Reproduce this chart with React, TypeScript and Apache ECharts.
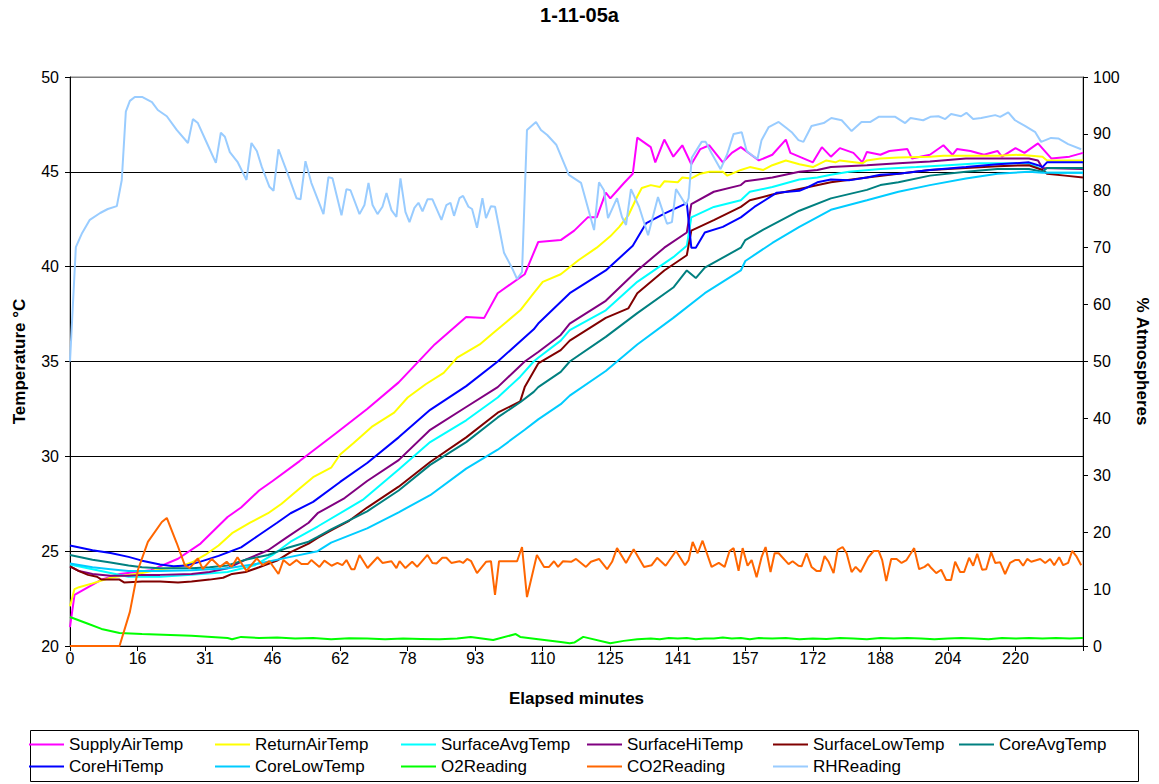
import React, { useEffect, useRef } from "react";
import * as echarts from "echarts";

// x values are sample indices along the elapsed-minutes category axis (0..225)
const xTickLabels = ["0", "16", "31", "46", "62", "78", "93", "110", "125", "141", "157", "172", "188", "204", "220"];

const supplyAirTemp: [number, number][] = [[0,21.0],[1,22.7],[7,23.5],[11,23.8],[18,24.0],[24,24.6],[29,25.4],[32,26.1],[35,26.8],[38,27.3],[42,28.2],[45,28.7],[51,29.75],[59,31.2],[66,32.5],[73,33.9],[81,35.9],[88,37.35],[92,37.3],[95,38.6],[101,39.6],[104,41.3],[109,41.4],[112,41.9],[115,42.6],[117,42.6],[119,43.9],[120,43.6],[123,44.4],[125,44.9],[126,46.8],[129,46.3],[130,45.5],[132,46.7],[134,45.8],[136,46.4],[138,45.4],[140,46.2],[142,46.4],[145,45.5],[147,46.0],[149,46.3],[153,45.6],[156,45.9],[159,46.7],[160,46.0],[165,45.5],[167,46.3],[169,45.8],[171,46.25],[174,46.0],[176,45.5],[177,46.05],[180,45.9],[182,46.1],[186,46.2],[187,45.7],[191,45.9],[194,46.4],[196,45.9],[197,46.2],[200,46.1],[203,45.9],[206,46.1],[207,45.8],[210,46.25],[212,46.0],[215,46.5],[218,45.7],[222,45.8],[225,46.0]];

const returnAirTemp: [number, number][] = [[0,22.1],[1,23.0],[2,23.1],[5,23.3],[9,23.6],[13,23.75],[16,23.85],[20,24.05],[24,24.15],[27,24.4],[30,24.8],[33,25.3],[36,25.95],[40,26.5],[44,27.0],[47,27.5],[51,28.3],[54,28.9],[58,29.4],[60,30.1],[63,30.7],[67,31.55],[72,32.3],[75,33.1],[79,33.8],[83,34.4],[86,35.2],[91,35.9],[94,36.5],[97,37.1],[100,37.7],[103,38.6],[105,39.2],[109,39.6],[113,40.35],[117,41.0],[120,41.6],[122,42.1],[124,42.7],[126,43.7],[127,44.15],[129,44.3],[131,44.2],[132,44.5],[135,44.45],[136,44.7],[138,44.65],[140,44.9],[142,45.0],[145,45.0],[146,44.8],[149,45.1],[151,45.25],[154,45.1],[156,45.35],[159,45.6],[162,45.4],[165,45.25],[168,45.6],[170,45.5],[171,45.6],[176,45.45],[177,45.6],[180,45.7],[184,45.75],[191,45.8],[194,45.85],[206,45.85],[211,45.9],[216,45.8],[217,45.6],[225,45.6]];

const surfaceAvgTemp: [number, number][] = [[0,24.3],[5,24.05],[9,23.85],[13,23.65],[20,23.65],[27,23.75],[35,23.9],[41,24.25],[45,24.8],[49,25.5],[55,26.3],[65,27.7],[73,29.3],[80,30.75],[88,31.9],[95,33.1],[100,34.2],[103,35.0],[104,35.2],[109,36.1],[111,36.65],[119,37.7],[126,39.2],[134,40.5],[137,41.1],[138,42.6],[143,43.15],[149,43.5],[151,43.95],[156,44.2],[162,44.6],[166,44.7],[169,44.85],[173,45.0],[180,45.15],[188,45.25],[195,45.35],[202,45.45],[213,45.45],[216,45.1],[217,44.95],[225,44.95]];

const surfaceHiTemp: [number, number][] = [[0,24.2],[2,23.95],[5,23.8],[9,23.7],[13,23.7],[16,23.75],[20,23.75],[27,23.8],[31,23.9],[35,24.1],[39,24.55],[44,25.05],[48,25.7],[53,26.5],[55,27.0],[61,27.8],[66,28.7],[73,29.8],[80,31.4],[88,32.6],[95,33.65],[101,35.0],[104,35.5],[109,36.4],[111,37.0],[119,38.2],[126,39.8],[132,41.0],[137,41.8],[138,43.3],[143,43.95],[149,44.3],[150,44.5],[156,44.7],[162,45.0],[166,45.1],[169,45.25],[177,45.35],[184,45.45],[191,45.55],[199,45.7],[213,45.7],[215,45.6],[216,45.2],[225,45.15]];

const surfaceLowTemp: [number, number][] = [[0,24.2],[2,23.95],[4,23.75],[6,23.65],[7,23.5],[11,23.5],[12,23.35],[16,23.4],[20,23.4],[24,23.35],[27,23.4],[31,23.5],[34,23.6],[36,23.8],[39,23.9],[42,24.15],[46,24.5],[49,24.95],[53,25.4],[55,25.7],[58,26.1],[62,26.6],[66,27.3],[73,28.4],[80,29.7],[88,31.0],[95,32.3],[100,32.9],[101,33.65],[104,34.9],[109,35.6],[111,36.1],[119,37.3],[124,37.8],[126,38.6],[132,39.8],[137,40.6],[138,41.9],[143,42.45],[149,43.15],[151,43.5],[156,43.8],[162,44.1],[169,44.45],[177,44.7],[184,44.9],[191,45.1],[199,45.2],[206,45.3],[213,45.35],[216,45.1],[217,44.9],[221,44.8],[225,44.7]];

const coreAvgTemp: [number, number][] = [[0,24.8],[5,24.55],[9,24.4],[13,24.25],[16,24.15],[20,24.1],[27,24.1],[31,24.15],[35,24.25],[39,24.55],[44,24.8],[48,25.15],[53,25.5],[55,25.75],[58,26.15],[66,27.1],[73,28.2],[80,29.55],[88,30.75],[95,32.05],[100,32.85],[103,33.4],[104,33.65],[109,34.45],[111,35.0],[119,36.3],[126,37.55],[134,38.9],[137,39.8],[139,39.4],[141,39.95],[149,41.0],[150,41.4],[154,41.95],[162,42.95],[169,43.6],[177,44.05],[180,44.3],[184,44.45],[191,44.8],[199,45.0],[206,45.15],[213,45.15],[216,45.0],[217,45.2],[225,45.2]];

const coreHiTemp: [number, number][] = [[0,25.3],[5,25.05],[9,24.9],[13,24.7],[16,24.5],[20,24.3],[23,24.2],[26,24.25],[29,24.45],[33,24.75],[38,25.2],[42,25.85],[46,26.5],[49,27.0],[54,27.6],[60,28.65],[66,29.65],[73,31.0],[80,32.45],[88,33.7],[95,35.0],[103,36.7],[104,37.0],[111,38.6],[119,39.8],[125,41.1],[128,42.3],[132,42.8],[137,43.35],[138,41.0],[139,41.0],[141,41.8],[145,42.1],[149,42.6],[152,43.15],[157,43.9],[162,44.0],[164,44.2],[166,44.45],[169,44.6],[173,44.55],[177,44.7],[180,44.85],[184,44.9],[191,45.1],[199,45.25],[206,45.4],[213,45.5],[215,45.35],[216,45.25],[217,45.5],[225,45.5]];

const coreLowTemp: [number, number][] = [[0,24.35],[5,24.15],[9,24.05],[13,23.95],[20,23.95],[27,24.0],[35,24.1],[42,24.35],[49,24.7],[55,25.0],[58,25.45],[66,26.2],[73,27.05],[80,27.95],[88,29.35],[95,30.35],[101,31.4],[104,31.95],[109,32.75],[111,33.2],[119,34.5],[126,35.9],[134,37.3],[141,38.6],[149,39.8],[150,40.3],[156,41.25],[162,42.1],[169,43.0],[177,43.5],[184,43.95],[191,44.3],[199,44.65],[206,44.9],[213,45.0],[216,44.95],[225,44.95]];

const o2Reading: [number, number][] = [[0,5.1],[4,3.9],[7,3.0],[11,2.3],[16,2.1],[27,1.8],[35,1.4],[36,1.2],[38,1.6],[42,1.4],[46,1.5],[50,1.3],[54,1.4],[58,1.2],[62,1.35],[66,1.3],[70,1.2],[74,1.3],[78,1.25],[82,1.2],[86,1.3],[89,1.6],[94,1.05],[99,2.1],[100,1.6],[104,1.2],[109,0.7],[111,0.5],[112,0.6],[114,1.6],[120,0.5],[123,0.9],[126,1.2],[129,1.3],[131,1.2],[133,1.4],[135,1.3],[137,1.4],[139,1.2],[141,1.3],[143,1.3],[145,1.5],[147,1.3],[149,1.4],[151,1.2],[153,1.4],[156,1.3],[159,1.4],[162,1.2],[165,1.3],[168,1.25],[171,1.4],[174,1.3],[177,1.2],[180,1.4],[183,1.3],[186,1.4],[189,1.3],[192,1.2],[195,1.3],[198,1.4],[201,1.3],[204,1.2],[207,1.4],[210,1.3],[213,1.4],[216,1.3],[219,1.4],[222,1.3],[225,1.4]];

const co2Reading: [number, number][] = [[0,0],[11,0],[13.3,6.0],[15.1,13.4],[17.3,18.3],[20.4,21.8],[21.5,22.5],[23.7,18.1],[25.5,14.2],[26.6,13.7],[28.4,15.4],[29.5,13.5],[31.5,15.3],[33.3,13.9],[34.8,14.8],[35.9,13.9],[37.2,15.6],[39.2,13.2],[41.5,15.4],[42.8,14.2],[44.3,14.9],[46.3,12.65],[47.4,15.1],[48.8,14.2],[50.3,15.1],[51.4,14.4],[52.8,14.4],[53.6,15.1],[55.4,13.9],[56.5,15.0],[58.1,14.1],[59.4,14.6],[60.5,14.2],[61.4,15.1],[62.5,13.5],[63.2,13.5],[64.3,16.0],[66.1,13.7],[68.3,15.6],[69.4,14.6],[71.4,14.9],[72.5,13.7],[73.2,14.9],[74.5,13.7],[76,14.8],[77.1,13.9],[79.4,16.0],[80.5,14.6],[81.4,14.5],[82.7,15.5],[83.6,15.5],[84.7,14.6],[86.5,14.9],[87.3,14.6],[88.2,15.3],[89.1,14.9],[90.4,12.8],[92.4,14.8],[93.5,14.9],[94.4,9.0],[95.3,14.9],[99.3,14.9],[100.4,17.4],[101.5,8.6],[103.7,16.0],[105.3,13.9],[106.4,13.9],[107.5,14.9],[108.4,13.9],[109.5,14.9],[111.3,14.8],[112.4,15.3],[114.6,13.9],[115.7,14.8],[117.5,15.3],[119.3,13.5],[120.4,14.8],[121.5,17.2],[123.5,14.6],[125.2,17.0],[127.5,13.9],[129.2,14.2],[130.4,15.5],[132.3,14.1],[134.6,16.7],[136.6,14.2],[137.4,15.1],[138.3,18.3],[139.4,16.3],[140.5,18.5],[142.5,13.9],[144.1,14.6],[145.4,13.9],[146.5,16.7],[147.4,17.2],[148.5,13.2],[149.4,17.2],[150.5,14.1],[151.4,15.1],[152.5,12.1],[153.6,15.6],[154.5,17.4],[155.6,13.0],[156.5,16.3],[157.4,16.3],[159.6,14.4],[160.5,14.9],[161.8,14.1],[162.5,14.0],[163.6,16.3],[164.7,13.9],[165.8,13.2],[166.7,13.2],[167.6,15.8],[168.5,14.8],[169.6,12.8],[170.5,16.9],[171.6,17.4],[172.5,16.3],[173.6,13.0],[174.5,13.9],[175.6,13.0],[177.3,15.6],[178.5,16.7],[179.6,16.7],[180.4,15.1],[181.3,11.4],[182.4,15.3],[183.6,15.3],[184.7,14.6],[185.8,15.1],[186.7,16.2],[187.5,17.2],[188.6,13.5],[189.8,13.9],[190.6,14.4],[191.3,13.7],[192.4,12.8],[193.5,13.4],[194.6,11.6],[195.7,11.6],[196.6,14.8],[197.7,13.0],[198.6,13.0],[199.7,15.5],[200.6,14.1],[201.5,16.2],[202.6,13.4],[203.5,13.5],[204.6,16.5],[205.5,14.6],[206.6,14.7],[207.7,12.65],[208.8,14.6],[209.9,15.1],[210.8,15.1],[211.7,14.1],[212.6,15.3],[213.5,14.8],[215.5,15.3],[216.6,14.6],[217.7,15.3],[218.6,14.2],[219.7,15.6],[220.6,14.2],[221.7,14.6],[222.6,16.7],[223.5,15.8],[224.6,14.2]];

const rhReading: [number, number][] = [[0,50],[1.3,70.1],[2.7,72.6],[4.4,74.9],[6.7,76.1],[8.4,76.8],[10.4,77.3],[11.5,81.9],[12.4,93.9],[13.3,95.8],[14.4,96.5],[16,96.5],[18.2,95.6],[19.5,94.2],[21.5,93.1],[23.7,90.7],[26.2,88.4],[27.3,92.6],[28.4,91.9],[30.4,88.4],[32.4,84.9],[33.5,90.2],[34.4,89.5],[35.5,86.8],[37.2,85.1],[39.2,81.9],[40.3,88.4],[41.5,87.0],[42.6,84.2],[44.3,80.7],[45.2,80.0],[46.3,87.3],[48.3,83.1],[50.3,78.7],[51.2,78.5],[52.3,85.2],[53.6,81.4],[56.3,75.9],[57.4,82.4],[58.3,82.2],[60.3,75.7],[61.4,80.3],[62.3,80.1],[64.3,75.9],[65.4,77.5],[66.3,81.4],[67.2,77.5],[68.3,75.9],[69.4,77.2],[70.3,79.6],[71.4,76.6],[72.5,75.4],[73.4,82.2],[74.5,76.3],[75.4,74.5],[76.5,77.0],[77.4,77.9],[78.3,76.4],[79.4,78.5],[80.5,78.5],[82.5,74.9],[83.6,77.5],[84.5,77.9],[85.3,75.6],[86.5,78.7],[87.3,79.1],[88.5,77.2],[89.3,76.8],[90.4,73.5],[91.6,78.7],[92.4,75.2],[93.5,77.3],[94.4,77.2],[95.3,73.6],[96.4,69.1],[98.2,66.4],[99.3,64.5],[100.4,65.7],[101.5,90.7],[103.5,92.1],[104.6,90.7],[106,89.8],[108,88.1],[110.8,82.8],[113.5,81.4],[116.4,73.1],[117.5,81.5],[118.6,80.1],[119.5,75.2],[121.5,78.7],[122.6,75.4],[123.5,74.0],[124.6,80.3],[126.4,77.2],[128.4,72.2],[130.6,78.9],[132.6,74.2],[133.7,74.5],[134.6,80.3],[136.8,77.5],[137.4,78.7],[138.1,85.8],[140.3,88.6],[141.2,88.6],[142.5,86.6],[144.5,83.8],[145.9,86.3],[147.4,90.0],[149.2,90.3],[150.3,87.0],[151.4,86.3],[152.7,85.6],[153.6,88.9],[155.2,91.2],[157.4,92.1],[159.2,91.0],[160.3,90.3],[161.8,88.9],[162.9,88.6],[164.7,91.4],[167.4,91.9],[169.1,92.8],[171.4,92.4],[173.6,90.5],[175.8,92.1],[177.8,92.1],[179.6,93.0],[183.3,93.0],[185.5,91.9],[186.7,92.8],[189.5,92.4],[191.1,93.0],[192.9,93.1],[194.4,92.6],[195.7,93.5],[197.9,93.1],[199.1,93.7],[200.6,92.6],[202.4,92.8],[205.5,93.3],[206.6,93.0],[208.4,93.8],[209.9,92.4],[212.1,91.4],[214.4,90.3],[215.7,88.6],[217.9,89.3],[219.5,89.2],[221.7,88.2],[224.6,87.3]];

const seriesNames = ["SupplyAirTemp", "ReturnAirTemp", "SurfaceAvgTemp", "SurfaceHiTemp", "SurfaceLowTemp", "CoreAvgTemp", "CoreHiTemp", "CoreLowTemp", "O2Reading", "CO2Reading", "RHReading"];
const seriesColors = ["#FF00FF", "#FFFF00", "#00FFFF", "#800080", "#800000", "#008080", "#0000FF", "#00CCFF", "#00FF00", "#FF6600", "#99CCFF"];
const seriesData = [supplyAirTemp, returnAirTemp, surfaceAvgTemp, surfaceHiTemp, surfaceLowTemp, coreAvgTemp, coreHiTemp, coreLowTemp, o2Reading, co2Reading, rhReading];
const seriesAxis = [0, 0, 0, 0, 0, 0, 0, 0, 1, 1, 1];

const FONT = "'Liberation Sans', Arial, sans-serif";

export default function App() {
  const ref = useRef<HTMLDivElement>(null);
  useEffect(() => {
    const chart = echarts.init(ref.current as HTMLDivElement, null, { renderer: "svg" });
    const colX = [29, 215, 401, 587, 773, 959];
    const rowTop = [736, 758];
    const legends = seriesNames.map((n, i) => ({
      data: [n],
      left: colX[i % 6],
      top: rowTop[Math.floor(i / 6)],
      padding: 0,
      icon: "rect",
      itemWidth: 35,
      itemHeight: 2,
      selectedMode: false,
      textStyle: { fontFamily: FONT, fontSize: 17, color: "#000" },
    }));
    const option: any = {
      animation: false,
      backgroundColor: "#fff",
      textStyle: { fontFamily: FONT, color: "#000" },
      title: {
        text: "1-11-05a",
        left: "center",
        top: 5,
        padding: 0,
        textStyle: { fontFamily: FONT, fontSize: 20, fontWeight: "bold", color: "#000" },
      },
      legend: legends,
      grid: { left: 70, right: 74, top: 77, bottom: 138, show: true, borderColor: "#808080", borderWidth: 1, backgroundColor: "transparent" },
      xAxis: {
        type: "value",
        min: 0,
        max: 225,
        interval: 15,
        name: "Elapsed minutes",
        nameLocation: "middle",
        nameGap: 44,
        nameTextStyle: { fontFamily: FONT, fontSize: 17, fontWeight: "bold", color: "#000" },
        axisLine: { show: true, lineStyle: { color: "#000", width: 1 } },
        axisTick: { show: true, inside: false, length: 5, lineStyle: { color: "#000" } },
        axisLabel: {
          fontFamily: FONT,
          fontSize: 16,
          color: "#000",
          margin: 4,
          formatter: (v: number) => {
            const k = Math.round(v / 15);
            return xTickLabels[k] !== undefined ? xTickLabels[k] : "";
          },
        },
        splitLine: { show: false },
      },
      yAxis: [
        {
          type: "value",
          min: 20,
          max: 50,
          interval: 5,
          position: "left",
          name: "Temperature °C",
          nameLocation: "middle",
          nameRotate: 90,
          nameGap: 42,
          nameTextStyle: { fontFamily: FONT, fontSize: 17, fontWeight: "bold", color: "#000" },
          axisLine: { show: true, lineStyle: { color: "#000", width: 1 } },
          axisTick: { show: true, inside: false, length: 5, lineStyle: { color: "#000" } },
          axisLabel: { fontFamily: FONT, fontSize: 16, color: "#000", margin: 11 },
          splitLine: { show: true, lineStyle: { color: ["#000", "#000", "#000", "#000", "#000", "#000", "#808080"], width: 1 } },
        },
        {
          type: "value",
          min: 0,
          max: 100,
          interval: 10,
          position: "right",
          name: "% Atmospheres",
          nameLocation: "middle",
          nameRotate: -90,
          nameGap: 51,
          nameTextStyle: { fontFamily: FONT, fontSize: 17, fontWeight: "bold", color: "#000" },
          axisLine: { show: true, lineStyle: { color: "#000", width: 1 } },
          axisTick: { show: true, inside: false, length: 5, lineStyle: { color: "#000" } },
          axisLabel: { fontFamily: FONT, fontSize: 16, color: "#000", margin: 10 },
          splitLine: { show: false },
        },
      ],
      graphic: [
        {
          type: "rect",
          shape: { x: 30.5, y: 730.5, width: 1108, height: 51 },
          style: { fill: "none", stroke: "#000", lineWidth: 1 },
          silent: true,
          z: -1,
        },
      ],
      series: seriesNames.map((n, i) => ({
        type: "line",
        name: n,
        data: seriesData[i],
        yAxisIndex: seriesAxis[i],
        color: seriesColors[i],
        showSymbol: false,
        symbol: "none",
        lineStyle: { color: seriesColors[i], width: 2 },
        itemStyle: { color: seriesColors[i] },
        emphasis: { disabled: true },
        silent: true,
        z: 2 + i,
      })),
    };
    chart.setOption(option);
    return () => chart.dispose();
  }, []);
  return <div ref={ref} style={{ position: "fixed", left: 0, top: 0, width: 1159, height: 784, background: "#fff" }} />;
}
